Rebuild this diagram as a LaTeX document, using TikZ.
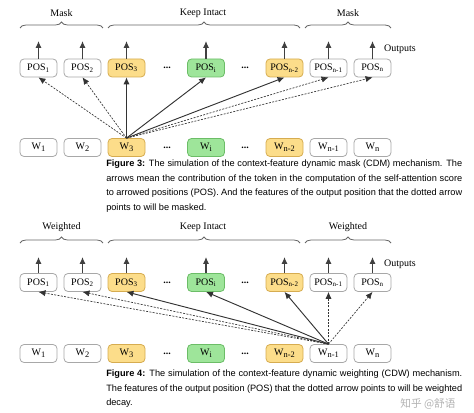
\documentclass[tikz,border=0pt]{standalone}
\usepackage{fontspec}
\setmainfont{Liberation Serif}
\newfontfamily\capfont{Liberation Sans}
\newfontfamily\cjk{Noto Sans CJK SC}
\usepackage{tikz}
\usetikzlibrary{positioning}
\usetikzlibrary{arrows.meta,decorations.pathreplacing}
\definecolor{tokyellow}{HTML}{FCDD8A}
\definecolor{tokyellowline}{HTML}{D6AC50}
\definecolor{tokgreen}{HTML}{9EE59A}
\definecolor{tokgreenline}{HTML}{6CBD67}
\definecolor{tokgrey}{HTML}{A8A8A8}
\newcommand{\wsub}[1]{\raisebox{-0.4ex}{\fontsize{6.3}{7}\selectfont #1}}

\begin{document}
\begin{tikzpicture}[x=0.75pt, y=-0.75pt,
    every node/.style={font=\fontsize{7.5}{9}\selectfont},
    tok/.style={draw=tokgrey, line width=0.6pt, rounded corners=3pt, minimum width=27.75pt, minimum height=13.5pt, inner sep=0pt},
    keep/.style={tok, draw=tokyellowline, fill=tokyellow},
    focus/.style={tok, draw=tokgreenline, fill=tokgreen},
    emit/.style={-{Latex[length=5.2pt,width=4.6pt]}, line width=0.8pt, draw=black!75},
    used/.style={-{Latex[length=5.2pt,width=4.6pt]}, line width=0.7pt, draw=black!80},
    dropped/.style={used, line width=0.5pt, dash pattern=on 1.5pt off 1pt},
    group/.style={decorate, decoration={brace, amplitude=4.5pt}, line width=0.6pt, draw=black!60},
    caption/.style={anchor=north west, align=left, inner sep=0pt, font=\capfont\fontsize{6.9}{10.8}\selectfont}]

    \useasboundingbox (0,0) rectangle (474,413);

    % ---- Figure 3: mask ----
    % Groups
    \draw[group] (20,28) -- (103,28);
    \draw[group] (108,28) -- (300,28);
    \draw[group] (305,28) -- (391,28);
    \node at (61.5,13) (maskl) {Mask};
    \node at (203,13) (keepa) {Keep Intact};
    \node at (348,13) (maskr) {Mask};
    \node at (400,49) (outa) {Outputs};

    % Nodes
    \node at (38.5,68) (pa1) [tok] {POS\textsubscript{1}};
    \node at (82.5,68) (pa2) [tok] {POS\textsubscript{2}};
    \node at (126.5,68) (pa3) [keep] {POS\textsubscript{3}};
    \node at (167,68) (da1) {\textbf{...}};
    \node at (206,68) (pai) [focus] {POS\textsubscript{i}};
    \node at (245,68) (da2) {\textbf{...}};
    \node at (284.5,68) (pan2) [keep] {POS\textsubscript{n-2}};
    \node at (328.5,68) (pan1) [tok] {POS\textsubscript{n-1}};
    \node at (372.5,68) (pan) [tok] {POS\textsubscript{n}};

    \node at (38.5,147.5) (wa1) [tok] {W\wsub{1}};
    \node at (82.5,147.5) (wa2) [tok] {W\wsub{2}};
    \node at (126.5,147.5) (wa3) [keep] {W\wsub{3}};
    \node at (167,147.5) (da3) {\textbf{...}};
    \node at (206,147.5) (wai) [focus] {W\wsub{i}};
    \node at (245,147.5) (da4) {\textbf{...}};
    \node at (284.5,147.5) (wan2) [keep] {W\wsub{n-2}};
    \node at (328.5,147.5) (wan1) [tok] {W\wsub{n-1}};
    \node at (372.5,147.5) (wan) [tok] {W\wsub{n}};

    % Output ends
    \coordinate (ta1) at (38.5,41);
    \coordinate (ta2) at (82.5,41);
    \coordinate (ta3) at (126.5,41);
    \coordinate (tai) at (206,41);
    \coordinate (tan2) at (284.5,41);
    \coordinate (tan1) at (328.5,41);
    \coordinate (tan) at (372.5,41);

    % Arrows
    \draw[emit] (pa1) -- (ta1);
    \draw[emit] (pa2) -- (ta2);
    \draw[emit] (pa3) -- (ta3);
    \draw[emit] (pai) -- (tai);
    \draw[emit] (pan2) -- (tan2);
    \draw[emit] (pan1) -- (tan1);
    \draw[emit] (pan) -- (tan);
    \draw[dropped] (wa3.north) -- (pa1.south);
    \draw[dropped] (wa3.north) -- (pa2.south);
    \draw[used] (wa3.north) -- (pa3.south);
    \draw[used] (wa3.north) -- (pai.south);
    \draw[used] (wa3.north) -- (pan2.south);
    \draw[dropped] (wa3.north) -- (pan1.south);
    \draw[dropped] (wa3.north) -- (pan.south);

    \node at (106,160) (capa) [caption] {%
      \makebox[267pt][s]{\textbf{Figure 3:} The simulation of the context-feature dynamic mask (CDM) mechanism. The}\\
      \makebox[267pt][s]{arrows mean the contribution of the token in the computation of the self-attention score}\\
      \makebox[267pt][s]{to arrowed positions (POS). And the features of the output position that the dotted arrow}\\
      points to will be masked.};

    % ---- Figure 4: weighting ----
    % Groups
    \draw[group] (20,243) -- (103,243);
    \draw[group] (108,243) -- (300,243);
    \draw[group] (305,243) -- (391,243);
    \node at (61.5,227) (weightl) {Weighted};
    \node at (203,227) (keepb) {Keep Intact};
    \node at (348,227) (weightr) {Weighted};
    \node at (400,264) (outb) {Outputs};

    % Nodes
    \node at (38.5,282.5) (pb1) [tok] {POS\textsubscript{1}};
    \node at (82.5,282.5) (pb2) [tok] {POS\textsubscript{2}};
    \node at (126.5,282.5) (pb3) [keep] {POS\textsubscript{3}};
    \node at (167,282.5) (db1) {\textbf{...}};
    \node at (206,282.5) (pbi) [focus] {POS\textsubscript{i}};
    \node at (245,282.5) (db2) {\textbf{...}};
    \node at (284.5,282.5) (pbn2) [keep] {POS\textsubscript{n-2}};
    \node at (328.5,282.5) (pbn1) [tok] {POS\textsubscript{n-1}};
    \node at (372.5,282.5) (pbn) [tok] {POS\textsubscript{n}};

    \node at (38.5,353.5) (wb1) [tok] {W\wsub{1}};
    \node at (82.5,353.5) (wb2) [tok] {W\wsub{2}};
    \node at (126.5,353.5) (wb3) [keep] {W\wsub{3}};
    \node at (167,353.5) (db3) {\textbf{...}};
    \node at (206,353.5) (wbi) [focus] {W\wsub{i}};
    \node at (245,353.5) (db4) {\textbf{...}};
    \node at (284.5,353.5) (wbn2) [keep] {W\wsub{n-2}};
    \node at (328.5,353.5) (wbn1) [tok] {W\wsub{n-1}};
    \node at (372.5,353.5) (wbn) [tok] {W\wsub{n}};

    % Output ends
    \coordinate (tb1) at (38.5,257);
    \coordinate (tb2) at (82.5,257);
    \coordinate (tb3) at (126.5,257);
    \coordinate (tbi) at (206,257);
    \coordinate (tbn2) at (284.5,257);
    \coordinate (tbn1) at (328.5,257);
    \coordinate (tbn) at (372.5,257);

    % Arrows
    \draw[emit] (pb1) -- (tb1);
    \draw[emit] (pb2) -- (tb2);
    \draw[emit] (pb3) -- (tb3);
    \draw[emit] (pbi) -- (tbi);
    \draw[emit] (pbn2) -- (tbn2);
    \draw[emit] (pbn1) -- (tbn1);
    \draw[emit] (pbn) -- (tbn);
    \draw[dropped] (wbn1.north) -- (pb1.south);
    \draw[dropped] (wbn1.north) -- (pb2.south);
    \draw[used] (wbn1.north) -- (pb3.south);
    \draw[used] (wbn1.north) -- (pbi.south);
    \draw[used] (wbn1.north) -- (pbn2.south);
    \draw[dropped] (wbn1.north) -- (pbn1.south);
    \draw[dropped] (wbn1.north) -- (pbn.south);

    \node at (106,370) (capb) [caption] {%
      \makebox[267pt][s]{\textbf{Figure 4:} The simulation of the context-feature dynamic weighting (CDW) mechanism.}\\
      \makebox[267pt][s]{The features of the output position (POS) that the dotted arrow points to will be weighted}\\
      decay.};

    % watermark
    \node at (428,404) (mark) {\cjk\fontsize{8}{10}\selectfont\color{black!30}知乎 @舒语};

\end{tikzpicture}
\end{document}
